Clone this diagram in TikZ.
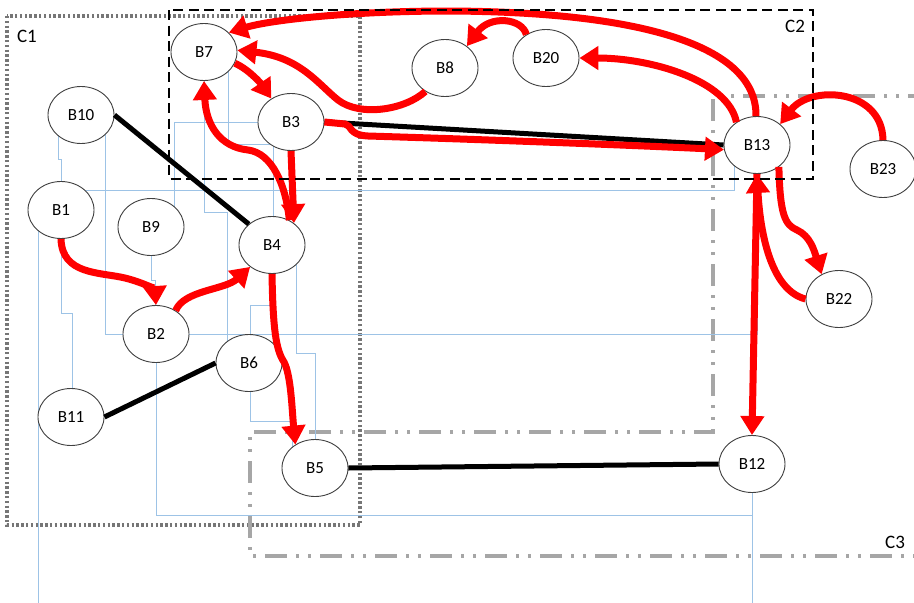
\documentclass[tikz,border=0pt]{standalone}
\usepackage{fontspec}
\setmainfont{Carlito}
\usetikzlibrary{shapes.geometric,arrows.meta}
\definecolor{thinblue}{RGB}{157,195,230}
\definecolor{cgray}{RGB}{166,166,166}
\definecolor{dotgray}{RGB}{118,118,118}
\definecolor{nodeline}{RGB}{64,64,64}
\pgfdeclarelayer{bg}
\pgfsetlayers{bg,main}
\tikzset{
  bn/.style={ellipse, draw=nodeline, line width=0.9pt, fill=white, minimum width=66pt, minimum height=57pt, inner sep=0pt, font=\fontsize{17}{19}\selectfont},
  redarrow/.style={draw=red, line width=7pt, -{Triangle[length=19pt,width=23pt]}},
  blackline/.style={draw=black, line width=5pt},
  thin/.style={draw=thinblue, line width=1pt},
  c1box/.style={draw=dotgray, line width=3.4pt, dash pattern=on 2.4pt off 2.4pt},
  c2box/.style={draw=black, line width=2.8pt, dash pattern=on 10pt off 5.5pt},
  c3box/.style={draw=cgray, line width=3.2pt, dash pattern=on 22pt off 9pt on 3pt off 9pt on 3pt off 9pt},
  clabel/.style={font=\fontsize{19}{21}\selectfont, inner sep=0pt}
}
\begin{document}
\begin{tikzpicture}[x=1pt,y=-1pt]
\clip (0,0) rectangle (914,603);
% nodes
\node[bn] (B7) at (204,52) {B7};
\node[bn] (B10) at (81,115) {B10};
\node[bn] (B1) at (61,210) {B1};
\node[bn] (B9) at (151,227) {B9};
\node[bn] (B4) at (272,245) {B4};
\node[bn] (B3) at (291,122) {B3};
\node[bn] (B2) at (156,334) {B2};
\node[bn] (B6) at (249,363) {B6};
\node[bn] (B11) at (71,417) {B11};
\node[bn] (B5) at (315,468) {B5};
\node[bn] (B8) at (445,68) {B8};
\node[bn] (B20) at (546,58) {B20};
\node[bn] (B13) at (757,145) {B13};
\node[bn] (B23) at (883,169) {B23};
\node[bn] (B22) at (839,299) {B22};
\node[bn] (B12) at (752,464) {B12};
\coordinate (out1) at (38,603);
\coordinate (out12) at (752,603);
% container labels
\node[clabel] (C1) at (27,36) {C1};
\node[clabel] (C2) at (795,26) {C2};
\node[clabel] (C3) at (895,542) {C3};
\begin{pgfonlayer}{bg}
\fill[white] (0,0) rectangle (914,603);
% containers
\draw[c1box] (7,16) rectangle (360,525);
\draw[c3box] (930,96) -- (713,96) -- (713,432) -- (250,432) -- (250,556) -- (930,556);
% thin blue connectors
\draw[thin] (B10 -| 58,0) -- (58,159) -- (61,159) -- (B1 -| 61,0);
\draw[thin] (B10 -| 105,0) |- (B2);
\draw[thin] (B1 |- 0,190) -| (B13 -| 734,0);
\draw[thin] (B1 -| 38,0) -- (out1);
\draw[thin] (B1) -- (61,313) -- (72,313) -- (B11 -| 72,0);
\draw[thin] (B9) -- (151,280) -- (155,280) -- (B2 -| 155,0);
\draw[thin] (B2) |- (B12 |- 0,515) -- (B12);
\draw[thin] (B12) -- (out12);
\draw[thin] (B2) -| (B13);
\draw[thin] (B9 -| 174,0) |- (B3);
\draw[thin] (B7 -| 228,0) -- (228,144) -- (273,144) -- (B4 -| 273,0);
\draw[thin] (B7) -- (204,212) -- (227,212) -- (B6 -| 227,0);
\draw[thin] (B4 -| 273,0) -- (273,305) -- (250,305) -- (B6 -| 250,0);
\draw[thin] (B4 -| 296,0) -- (296,353) -- (315,353) -- (B5);
\draw[thin] (B6 -| 250,0) -- (250,421) -- (292,421) -- (B5 -| 292,0);
\end{pgfonlayer}
% black links
\draw[blackline] (B10.east) -- (B4.138);
\draw[blackline] (B11.east) -- (B6.west);
\draw[blackline] (B5.east) -- (B12.west);
\draw[blackline] (B3.east) -- (B13.west);
% red arrows
\draw[redarrow] (B13.92) .. controls (757,45) and (640,12) .. (450,11) .. controls (350,11) and (270,20) .. (B7.38);
\draw[redarrow] (B13.132) .. controls (728,80) and (650,58) .. (B20.east);
\draw[redarrow] (B20.130) .. controls (522,18) and (490,15) .. (B8.45);
\draw[redarrow] (B8.-130) .. controls (405,110) and (360,117) .. (338,100) .. controls (318,84) and (300,57) .. (B7.3);
\draw[redarrow] (B7.-20) .. controls (250,70) and (262,85) .. (B3.130);
\draw[redarrow] (B3.east) -- (345,124) .. controls (352,125) and (348,135) .. (368,136) .. controls (500,140) and (650,146) .. (B13.188);
\draw[redarrow] (B3.south) -- (B4.45);
\draw[redarrow] (B4.55) .. controls (286,185) and (272,153) .. (248,150) .. controls (220,147) and (206,125) .. (B7.south);
\draw[redarrow] (B1.south) .. controls (62,275) and (100,272) .. (125,278) .. controls (145,283) and (155,290) .. (B2.north);
\draw[redarrow] (B2.50) .. controls (184,290) and (225,290) .. (B4.-135);
\draw[redarrow] (B4.south) .. controls (273,330) and (276,350) .. (284,362) .. controls (291,375) and (292,410) .. (B5.130);
\draw[redarrow] (B13.south) -- (B12.north);
\draw[redarrow] (B22.west) .. controls (770,290) and (760,230) .. (B13.south);
\draw[redarrow] (B13.-45) .. controls (780,215) and (785,225) .. (797,230) .. controls (810,236) and (814,250) .. (B22.125);
\draw[redarrow] (B23.north) .. controls (882,88) and (810,85) .. (B13.42);
% C2 box on top
\draw[c2box] (169,10) rectangle (813,179);
\end{tikzpicture}
\end{document}
